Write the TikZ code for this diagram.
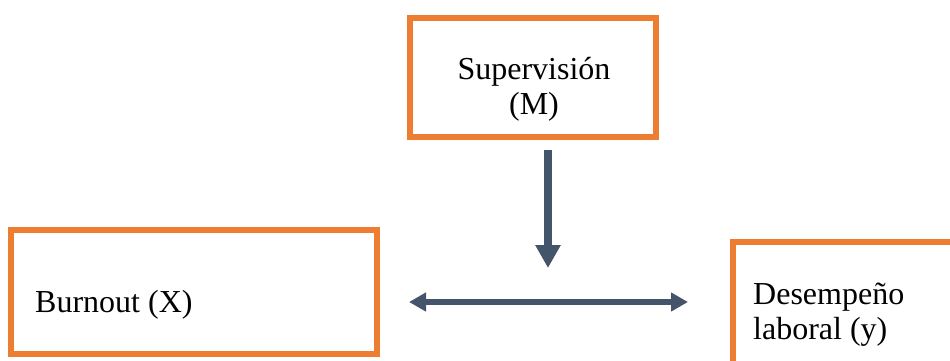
\documentclass[tikz,border=0pt]{standalone}
\usepackage{fontspec}
\setmainfont{Liberation Serif}
\usetikzlibrary{arrows.meta}
\definecolor{boxorange}{HTML}{ED7D31}
\definecolor{arrowslate}{HTML}{44546A}
\tikzset{
  obox/.style={draw=boxorange, line width=6pt, fill=none, inner sep=0pt},
  lbl/.style={font=\fontsize{32}{35}\selectfont, inner sep=0pt, text=black},
  varrow/.style={draw=arrowslate, line width=7.5pt, -{Triangle[length=23pt,width=24pt]}},
  harrow/.style={draw=arrowslate, line width=6pt, {Triangle[length=17pt,width=18pt]}-{Triangle[length=17pt,width=18pt]}}
}
\begin{document}
\begin{tikzpicture}[x=1pt,y=-1pt]
\useasboundingbox (0,0) rectangle (950,360);
\clip (0,0) rectangle (950,360);
% boxes
\node[obox, minimum width=246pt, minimum height=119pt] (sup) at (533,77.5) {};
\node[obox, minimum width=366pt, minimum height=124pt] (bur) at (194,292) {};
\node[obox, minimum width=260pt, minimum height=160pt, anchor=north west] (des) at (730,239) {};
% texts
\node[lbl, align=center, anchor=base] (suptxt) at (534,114) {Supervisión\\(M)};
\node[lbl, anchor=base west] (burtxt) at (35,312) {Burnout (X)};
\node[lbl, align=left, anchor=base west] (destxt) at (753,339) {Desempeño\\laboral (y)};
% arrows
\coordinate (vtop) at (548,150);
\coordinate (vtip) at (548,268);
\coordinate (hl) at (409,302);
\coordinate (hr) at (688,302);
\draw[varrow] (vtop) -- (vtip);
\draw[harrow] (hl) -- (hr);
\end{tikzpicture}
\end{document}
